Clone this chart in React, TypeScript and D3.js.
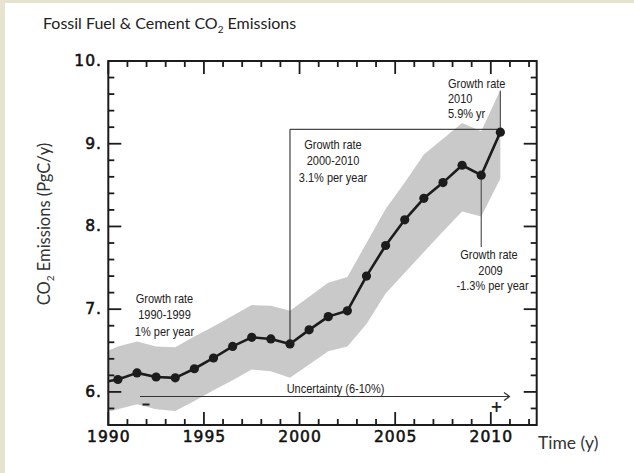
import React from "react";
import * as d3 from "d3";

// ---- data ----
const years = [1989, 1990, 1991, 1992, 1993, 1994, 1995, 1996, 1997, 1998, 1999, 2000, 2001, 2002, 2003, 2004, 2005, 2006, 2007, 2008, 2009, 2010];
const emissions = [6.11, 6.15, 6.23, 6.18, 6.17, 6.28, 6.41, 6.55, 6.66, 6.64, 6.58, 6.75, 6.91, 6.98, 7.40, 7.77, 8.08, 8.34, 8.53, 8.74, 8.62, 9.14];
const upperBound = [6.45, 6.55, 6.61, 6.55, 6.54, 6.67, 6.79, 6.92, 7.05, 7.04, 6.98, 7.15, 7.32, 7.39, 7.80, 8.21, 8.53, 8.87, 9.06, 9.25, 9.15, 9.65];
const lowerBound = [5.73, 5.79, 5.85, 5.79, 5.77, 5.89, 6.02, 6.14, 6.27, 6.25, 6.17, 6.33, 6.49, 6.55, 6.82, 7.19, 7.44, 7.69, 7.94, 8.18, 8.12, 8.58];
const xTickLabels = [1990, 1995, 2000, 2005, 2010];
const yTickLabels = [6, 7, 8, 9, 10];

const W = 634;
const H = 473;
const L = 108.3, R = 536.7, T = 61, B = 425;

const x = d3.scaleLinear().domain([1990, 2012.4]).range([L, R]);
const y = d3.scaleLinear().domain([5.6, 10]).range([B, T]);
const xp = (yr: number) => x(yr + 0.5);

const ink = "#1c1c1c";
const annFont = "'Liberation Sans', Arial, sans-serif";
const tickFont = "'DejaVu Sans', Verdana, sans-serif";
const titleFont = "Lato, 'Open Sans', sans-serif";

function Ann({ x: tx, y: ty, children, anchor = "middle" }: { x: number; y: number; children: any; anchor?: string }) {
  return (
    <text transform={`translate(${tx},${ty}) scale(0.88,1)`} textAnchor={anchor as any}>
      {children}
    </text>
  );
}

export default function App() {
  const pts = years.map((yr, i) => ({ yr, v: emissions[i], hi: upperBound[i], lo: lowerBound[i] }));
  const area = d3.area<any>().x((d) => xp(d.yr)).y0((d) => y(d.lo)).y1((d) => y(d.hi));
  const line = d3.line<any>().x((d) => xp(d.yr)).y((d) => y(d.v));

  const xMinor = d3.range(1991, 2013).filter((v) => v % 5 !== 0);
  const xMajor = d3.range(1990, 2013).filter((v) => v % 5 === 0);
  const yMinor = d3.range(5.8, 10, 0.2).filter((v) => Math.abs(v - Math.round(v)) > 0.01);
  const yMajor = [6, 7, 8, 9];

  const get = (yr: number) => pts.find((p) => p.yr === yr)!;
  const p1999 = get(1999), p2009 = get(2009), p2010 = get(2010);

  return (
    <div style={{ position: "fixed", left: 0, top: 0, width: W, height: H }}>
      <svg width={W} height={H} viewBox={`0 0 ${W} ${H}`} style={{ display: "block" }}>
        <rect x={0} y={0} width={W} height={H} fill="#e6e4d1" />
        <rect x={5} y={3} width={W - 5} height={H - 3} fill="#ffffff" />
        <defs>
          <clipPath id="plot">
            <rect x={L} y={T} width={R - L} height={B - T} />
          </clipPath>
        </defs>

        {/* title */}
        <text x={43} y={28.5} fontFamily={titleFont} fontSize={16} fill="#222">
          Fossil Fuel &amp; Cement CO<tspan fontSize={10} dy={4}>2</tspan>
          <tspan dy={-4}> Emissions</tspan>
        </text>

        {/* uncertainty band */}
        <g clipPath="url(#plot)">
          <path d={area(pts) || ""} fill="#c9c9c9" />
        </g>

        {/* annotation leader lines */}
        <path
          d={`M${xp(p1999.yr)},${y(p1999.v)} V129.3 H${xp(p2010.yr)}`}
          fill="none"
          stroke={ink}
          strokeWidth={1}
        />
        <line x1={xp(p2010.yr)} x2={xp(p2010.yr)} y1={y(9.64)} y2={y(p2010.v)} stroke="#555" strokeWidth={1.2} />
        <line x1={xp(p2009.yr)} x2={xp(p2009.yr)} y1={y(p2009.v)} y2={247} stroke="#555" strokeWidth={1.2} />

        {/* uncertainty arrow */}
        <line x1={140} x2={509} y1={396.5} y2={396.5} stroke="#333" strokeWidth={1} />
        <path d="M504,392.5 L509.5,396.5 L504,400.5" fill="none" stroke="#333" strokeWidth={1.2} />
        <line x1={142.5} x2={149.5} y1={404.5} y2={404.5} stroke="#222" strokeWidth={2} />
        <text x={496.5} y={407} fontFamily={tickFont} fontSize={15} fontWeight="bold" fill="#222" textAnchor="middle" dominantBaseline="central">
          +
        </text>

        {/* data line and dots */}
        <g clipPath="url(#plot)">
          <path d={line(pts) || ""} fill="none" stroke={ink} strokeWidth={2.6} strokeLinejoin="round" />
          {pts.map((p) => (
            <circle key={p.yr} cx={xp(p.yr)} cy={y(p.v)} r={4.6} fill={ink} />
          ))}
        </g>

        {/* annotations */}
        <g fontFamily={annFont} fontSize={12.5} fill="#222">
          <Ann x={335.5} y={392.5}>Uncertainty (6-10%)</Ann>

          <Ann x={164.5} y={302.5}>Growth rate</Ann>
          <Ann x={164.5} y={319}>1990-1999</Ann>
          <Ann x={164.5} y={335.5}>1% per year</Ann>

          <Ann x={333} y={148.5}>Growth rate</Ann>
          <Ann x={333} y={165}>2000-2010</Ann>
          <Ann x={333} y={181.5}>3.1% per year</Ann>

          <Ann x={489} y={259}>Growth rate</Ann>
          <Ann x={490.5} y={274.5}>2009</Ann>
          <Ann x={492.5} y={290}>-1.3% per year</Ann>

          <Ann x={448} y={87.5} anchor="start">Growth rate</Ann>
          <Ann x={448} y={102.5} anchor="start">2010</Ann>
          <Ann x={448} y={117.5} anchor="start">5.9% yr</Ann>
        </g>

        {/* axes frame */}
        <rect x={L} y={T} width={R - L} height={B - T} fill="none" stroke={ink} strokeWidth={2} />
        <g stroke={ink} strokeWidth={1.8}>
          {xMinor.map((v) => (
            <g key={"xm" + v}>
              <line x1={x(v)} x2={x(v)} y1={B} y2={B - 6} />
              <line x1={x(v)} x2={x(v)} y1={T} y2={T + 6} />
            </g>
          ))}
          {xMajor.map((v) => (
            <g key={"xM" + v}>
              <line x1={x(v)} x2={x(v)} y1={B} y2={B - 13} />
              <line x1={x(v)} x2={x(v)} y1={T} y2={T + 13} />
            </g>
          ))}
          {yMinor.map((v) => (
            <g key={"ym" + v}>
              <line x1={L} x2={L + 6} y1={y(v)} y2={y(v)} />
              <line x1={R} x2={R - 6} y1={y(v)} y2={y(v)} />
            </g>
          ))}
          {yMajor.map((v) => (
            <g key={"yM" + v}>
              <line x1={L} x2={L + 13} y1={y(v)} y2={y(v)} />
              <line x1={R} x2={R - 13} y1={y(v)} y2={y(v)} />
            </g>
          ))}
        </g>

        {/* tick labels */}
        <g fontFamily={tickFont} fontSize={15.5} fill="#111" stroke="#111" strokeWidth={0.55} letterSpacing={1}>
          {xTickLabels.map((v) => (
            <text key={"xl" + v} x={x(v) + 0.5} y={442} textAnchor="middle">
              {v}
            </text>
          ))}
          {yTickLabels.map((v) => (
            <text key={"yl" + v} x={102} y={y(v)} textAnchor="end" dominantBaseline="central">
              {`${v}.`}
            </text>
          ))}
        </g>

        {/* axis titles */}
        <text x={538} y={449} fontFamily={titleFont} fontSize={17.5} fill="#333">
          Time (y)
        </text>
        <text
          transform="translate(50,224) rotate(-90)"
          fontFamily={titleFont}
          fontSize={16.5}
          fill="#333"
          textAnchor="middle"
        >
          CO<tspan fontSize={10} dy={4}>2</tspan>
          <tspan dy={-4}> Emissions (PgC/y)</tspan>
        </text>
      </svg>
    </div>
  );
}
